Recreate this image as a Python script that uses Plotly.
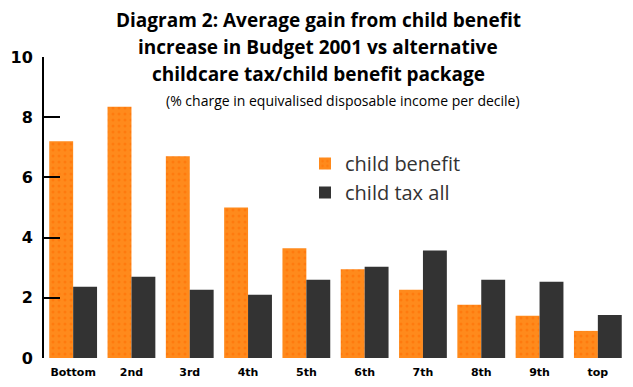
import plotly.graph_objects as go

deciles = ["Bottom", "2nd", "3rd", "4th", "5th", "6th", "7th", "8th", "9th", "top"]
child_benefit = [7.2, 8.35, 6.7, 5.0, 3.65, 2.95, 2.27, 1.77, 1.4, 0.9]
child_tax_all = [2.37, 2.7, 2.27, 2.1, 2.6, 3.03, 3.57, 2.6, 2.53, 1.43]
y_ticks = [0, 2, 4, 6, 8, 10]

# plot area in screen pixels (page has an 8px body margin)
PL, PR, PT, PB = 44, 627, 57, 358
OFF = 8
W, H = 633, 387

def px(x):
    return (x - PL) / (PR - PL)

def py(y):
    return (PB - y) / (PB - PT)

fig = go.Figure()
fig.add_trace(go.Bar(
    x=deciles, y=child_benefit, name="child benefit",
    marker=dict(color="#FF8A1C", line=dict(width=0),
                pattern=dict(shape=".", fgcolor="#FF6A00", size=6, solidity=0.2)),
))
fig.add_trace(go.Bar(
    x=deciles, y=child_tax_all, name="child tax all",
    marker=dict(color="#333333", line=dict(width=0)),
))

fig.update_layout(
    width=W, height=H,
    margin=dict(l=PL - OFF, r=W - (PR - OFF), t=PT - OFF, b=H - (PB - OFF), autoexpand=False),
    paper_bgcolor="white", plot_bgcolor="white",
    barmode="group", bargap=0.18, bargroupgap=0,
    showlegend=True,
    legend=dict(x=px(305), y=py(144), xanchor="left", yanchor="top",
                font=dict(family="Open Sans", size=20, color="#333333"),
                bgcolor="rgba(0,0,0,0)", itemsizing="constant",
                tracegroupgap=0, itemwidth=30),
    xaxis=dict(showline=False, ticks="", showgrid=False, automargin=False,
               ticklabelstandoff=6,
               tickfont=dict(family="DejaVu Sans", size=11, color="black", weight="bold")),
    yaxis=dict(range=[0, 10], tickvals=y_ticks, showgrid=False, zeroline=False,
               automargin=False,
               showline=True, linecolor="black", linewidth=2,
               ticks="inside", ticklen=16, tickwidth=2, tickcolor="black",
               ticklabelstandoff=6,
               tickfont=dict(family="DejaVu Sans", size=16, color="black", weight="bold")),
    font=dict(family="Open Sans"),
)

title_lines = ["Diagram 2: Average gain from child benefit",
               "increase in Budget 2001 vs alternative",
               "childcare tax/child benefit package"]
for i, line in enumerate(title_lines):
    fig.add_annotation(text="<b>" + line + "</b>", xref="paper", yref="paper",
                       x=px(318), y=py(20 + 27 * i), xanchor="center", yanchor="middle",
                       showarrow=False, font=dict(family="Open Sans", size=19, color="black"))
fig.add_annotation(text="(% charge in equivalised disposable income per decile)",
                   xref="paper", yref="paper", x=px(343), y=py(101),
                   xanchor="center", yanchor="middle", showarrow=False,
                   font=dict(family="Open Sans", size=14, color="black"))

fig.write_html("out.html")
